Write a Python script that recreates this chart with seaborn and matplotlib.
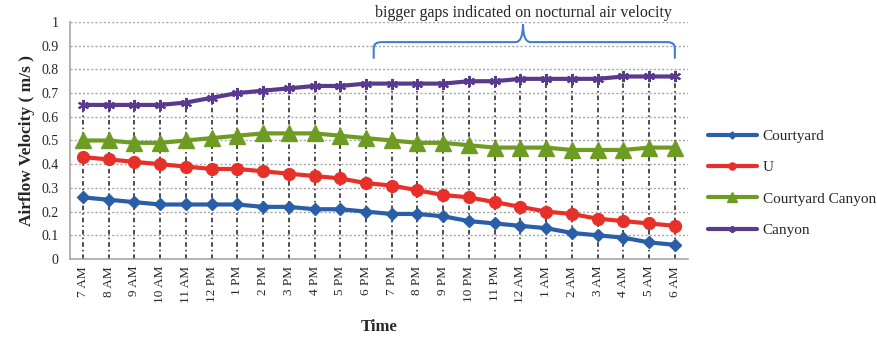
import numpy as np
import pandas as pd
import matplotlib
matplotlib.use("Agg")
import matplotlib.pyplot as plt
from matplotlib.path import Path
from matplotlib.patches import PathPatch
import seaborn as sns

# Hourly airflow velocity (m/s) for four urban configurations
times = ["7 AM", "8 AM", "9 AM", "10 AM", "11 AM", "12 PM", "1 PM", "2 PM",
         "3 PM", "4 PM", "5 PM", "6 PM", "7 PM", "8 PM", "9 PM", "10 PM",
         "11 PM", "12 AM", "1 AM", "2 AM", "3 AM", "4 AM", "5 AM", "6 AM"]
courtyard = [0.26, 0.25, 0.24, 0.23, 0.23, 0.23, 0.23, 0.22, 0.22, 0.21, 0.21, 0.20,
             0.19, 0.19, 0.18, 0.16, 0.15, 0.14, 0.13, 0.11, 0.10, 0.09, 0.07, 0.06]
u_shape = [0.43, 0.42, 0.41, 0.40, 0.39, 0.38, 0.38, 0.37, 0.36, 0.35, 0.34, 0.32,
           0.31, 0.29, 0.27, 0.26, 0.24, 0.22, 0.20, 0.19, 0.17, 0.16, 0.15, 0.14]
courtyard_canyon = [0.50, 0.50, 0.49, 0.49, 0.50, 0.51, 0.52, 0.53, 0.53, 0.53, 0.52, 0.51,
                    0.50, 0.49, 0.49, 0.48, 0.47, 0.47, 0.47, 0.46, 0.46, 0.46, 0.47, 0.47]
canyon = [0.65, 0.65, 0.65, 0.65, 0.66, 0.68, 0.70, 0.71, 0.72, 0.73, 0.73, 0.74,
          0.74, 0.74, 0.74, 0.75, 0.75, 0.76, 0.76, 0.76, 0.76, 0.77, 0.77, 0.77]

series_names = ["Courtyard", "U", "Courtyard Canyon", "Canyon"]
series_values = [courtyard, u_shape, courtyard_canyon, canyon]
colors = ["#2A5EA8", "#E8302A", "#6E9C22", "#5A3A8C"]
markers = ["D", "o", "^", (6, 2, 0)]
marker_sizes = [6, 8.5, 11, 8]

idx = np.arange(len(times))
df = pd.concat(
    [pd.DataFrame({"hour": idx, "velocity": v, "series": n})
     for n, v in zip(series_names, series_values)],
    ignore_index=True,
)

sns.set_style("white")
plt.rcParams["font.family"] = ["Liberation Serif", "DejaVu Serif"]

fig = plt.figure(figsize=(8.78, 3.38), dpi=100)
ax = fig.add_axes([0.0797, 0.2337, 0.7036, 0.7013])

# horizontal dotted grid
for yv in np.arange(0.1, 1.01, 0.1):
    ax.axhline(yv, color="#A6A6A6", lw=1.0, ls=(0, (1.5, 1.5)), zorder=0)

# drop lines from the highest series down to the axis
ax.vlines(idx, 0, canyon, colors="#1A1A1A", lw=1.1, ls=(0, (3, 2, 1, 2)), zorder=1)

for name, col, mk, ms in zip(series_names, colors, markers, marker_sizes):
    sub = df[df["series"] == name]
    sns.lineplot(data=sub, x="hour", y="velocity", ax=ax, color=col, lw=3,
                 marker=mk, markersize=ms, markeredgecolor=col,
                 markeredgewidth=1.5 if name == "Canyon" else 1.0,
                 label=name, zorder=3)

ax.set_xlim(-0.5, len(times) - 0.5)
ax.set_ylim(0, 1)
ax.set_xticks(idx)
ax.set_xticklabels(times, rotation=90, fontsize=9.5)
ax.set_yticks(np.round(np.arange(0, 1.01, 0.1), 1))
ax.set_yticklabels(["0"] + [f"{v:.1f}" for v in np.arange(0.1, 0.95, 0.1)] + ["1"],
                   fontsize=10)
ax.tick_params(axis="y", length=4, color="#A6A6A6", pad=4)
ax.tick_params(axis="x", length=0, pad=5)

for side in ["top", "right"]:
    ax.spines[side].set_visible(False)
for side in ["left", "bottom"]:
    ax.spines[side].set_color("#A6A6A6")
    ax.spines[side].set_linewidth(1.2)

ax.set_xlabel("Time", fontsize=12, fontweight="bold", labelpad=11)
ax.set_ylabel("Airflow Velocity ( m/s )", fontsize=12.5, fontweight="bold", labelpad=5)

# brace marking the night-time span
x0, x1, xm = 11.3, 23.0, 17.1
y_end, y_bar, y_tip = 0.845, 0.915, 0.99
r = 0.3
verts = [
    (x0, y_end), (x0, y_bar - 0.025), (x0, y_bar), (x0 + r, y_bar),
    (xm - r, y_bar), (xm, y_bar), (xm, y_tip),
    (xm, y_bar), (xm + r, y_bar),
    (x1 - r, y_bar), (x1, y_bar), (x1, y_bar - 0.025), (x1, y_end),
]
codes = [Path.MOVETO, Path.LINETO, Path.CURVE3, Path.CURVE3,
         Path.LINETO, Path.CURVE3, Path.CURVE3,
         Path.CURVE3, Path.CURVE3,
         Path.LINETO, Path.CURVE3, Path.CURVE3, Path.LINETO]
ax.add_patch(PathPatch(Path(verts, codes), fill=False, edgecolor="#3F7FD0",
                       lw=1.5, clip_on=False, zorder=4))
ax.text(xm, 1.003, "bigger gaps indicated on nocturnal air velocity",
        ha="center", va="bottom", fontsize=11.5, clip_on=False)

leg = ax.legend(loc="center left", bbox_to_anchor=(1.01, 0.32), frameon=False,
                fontsize=11, handlelength=3.2, labelspacing=1.15,
                handletextpad=0.4, markerscale=0.6)

fig.savefig("out.png", dpi=100)
